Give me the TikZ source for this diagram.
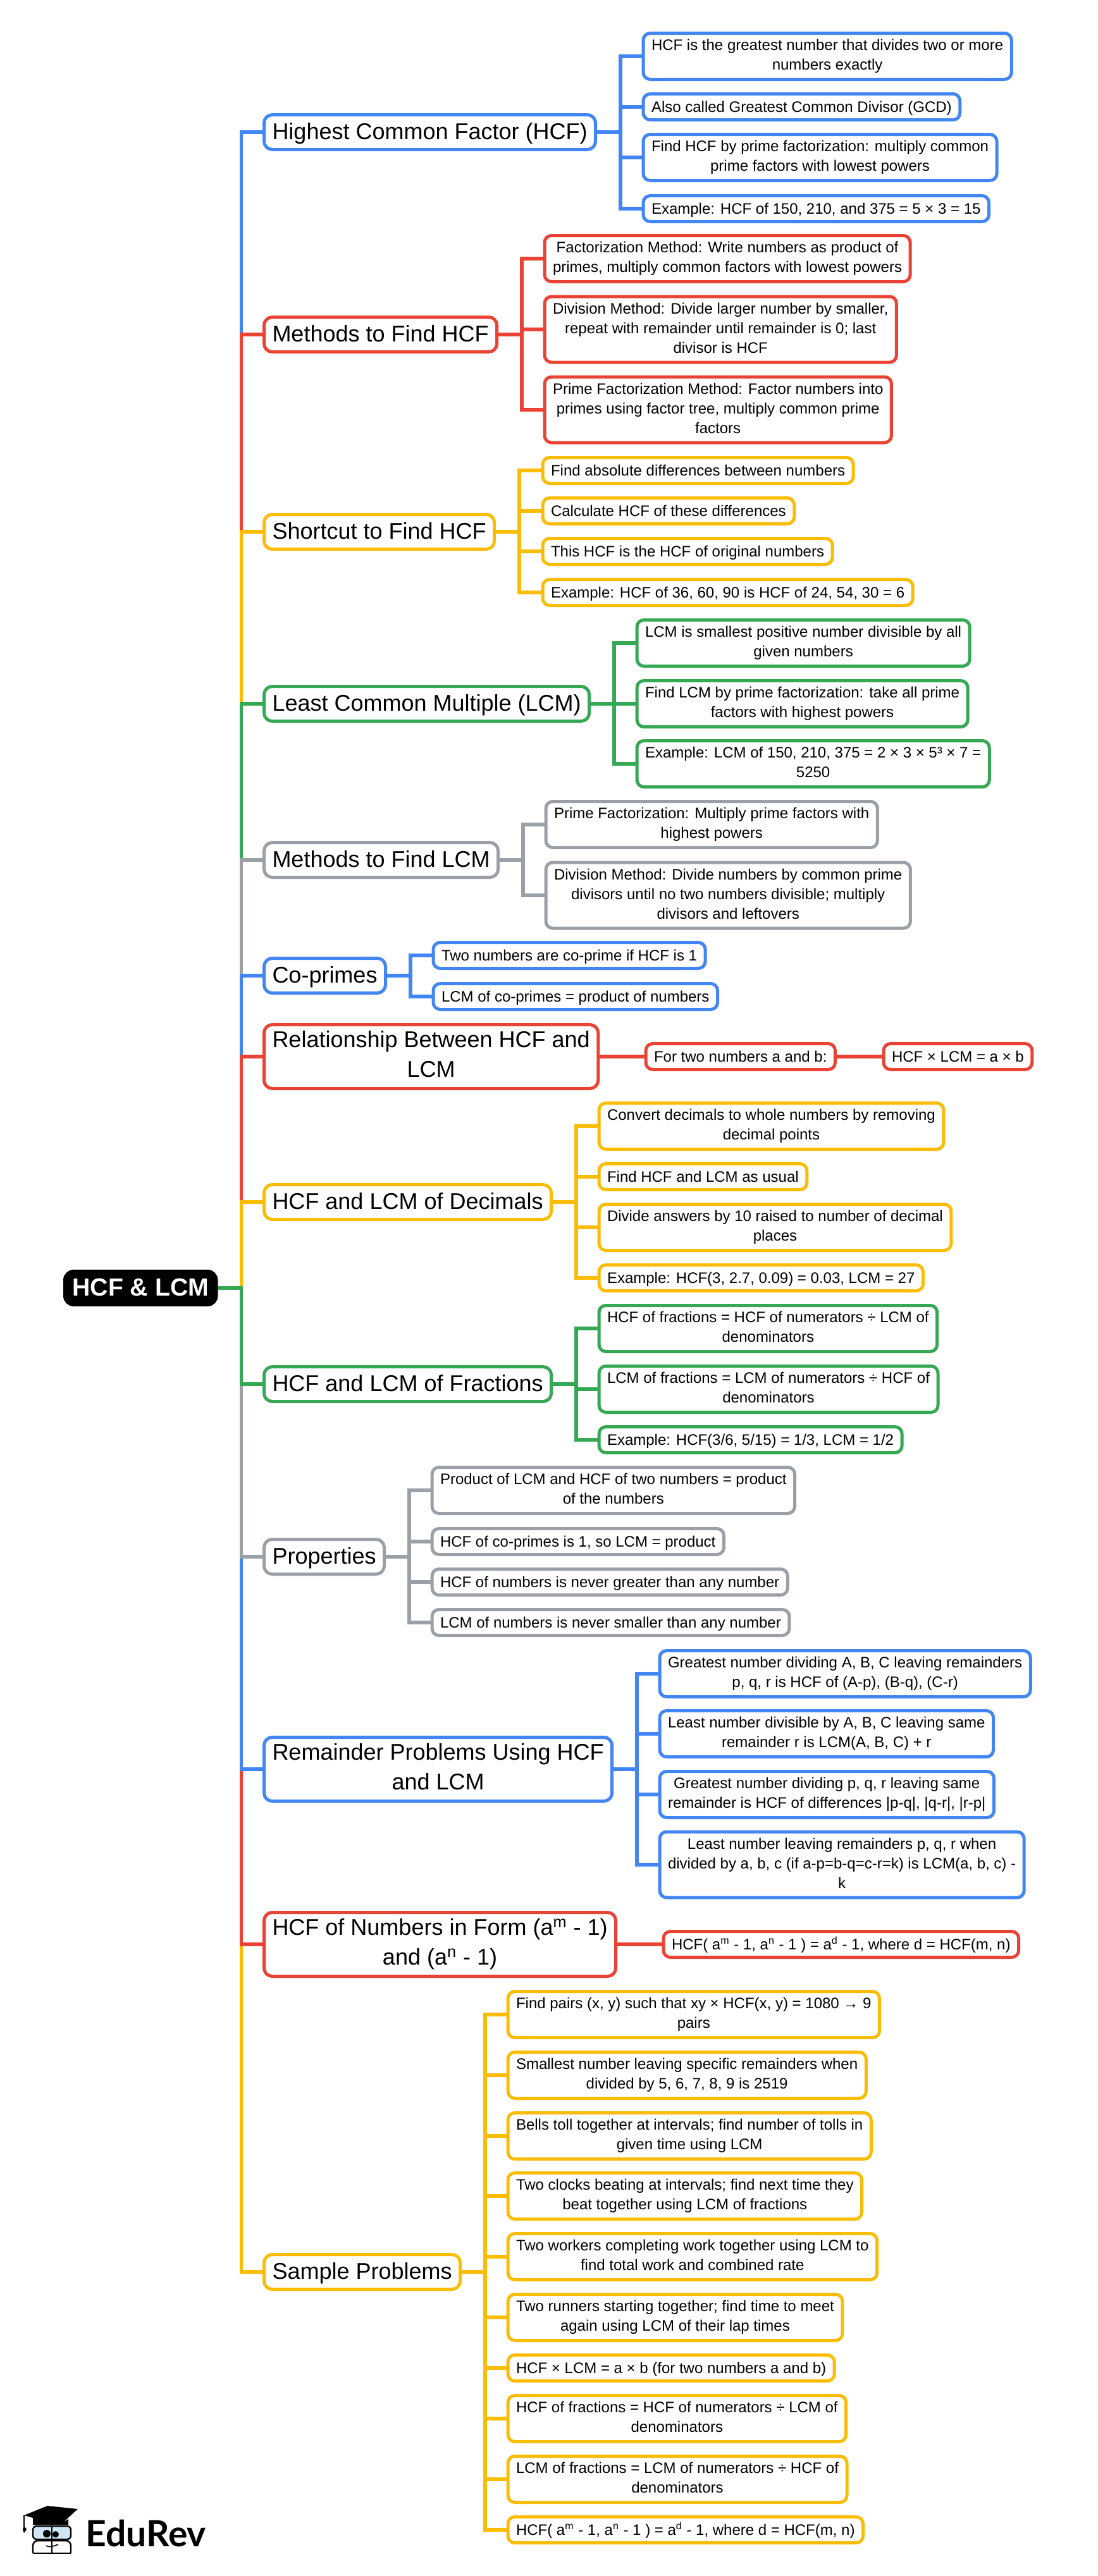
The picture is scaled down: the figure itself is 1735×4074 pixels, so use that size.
\documentclass[tikz,border=0pt]{standalone}
\usepackage{fontspec}
\setmainfont{Liberation Sans}
\newfontfamily\logofont{Lato}
\definecolor{mapblue}{HTML}{4285F4}
\definecolor{mapred}{HTML}{EA4335}
\definecolor{mapyellow}{HTML}{FBBC04}
\definecolor{mapgreen}{HTML}{34A853}
\definecolor{mapgray}{HTML}{9AA0A6}
\definecolor{logoblue}{HTML}{CFE6F7}
\tikzset{
  mainbox/.style={draw=#1,line width=2.5pt,rounded corners=6.5pt,fill=white,anchor=west,align=center,xshift=-0.5pt,
    font=\fontsize{18}{23.4}\selectfont,text=black,inner xsep=6.5pt,inner ysep=0pt,minimum height=27.5pt,
    execute at begin node={\rule{0pt}{15.5pt}},execute at end node={\rule[-3.8pt]{0pt}{0pt}}},
  leafbox/.style={draw=#1,line width=2.5pt,rounded corners=5.5pt,fill=white,anchor=west,align=center,xshift=-0.75pt,
    font=\fontsize{12}{15.5}\selectfont,text=black,inner xsep=6.5pt,inner ysep=0pt,minimum height=20.5pt,
    execute at begin node={\rule{0pt}{10.8pt}},execute at end node={\rule[-2.5pt]{0pt}{0pt}}},
  twolines/.style={minimum height=36.5pt},
  threelines/.style={minimum height=52pt},
  maintwo/.style={minimum height=50.5pt},
  link/.style={draw=#1,line width=2.8pt}
}
\begin{document}
\begin{tikzpicture}[x=0.5pt,y=-0.5pt]
\useasboundingbox (0,0) rectangle (1735,4074);
% Root and the main topics
\node[draw=black,fill=black,line width=2.5pt,rounded corners=7pt,inner xsep=6pt,inner ysep=0pt,minimum height=26.5pt,anchor=west,
  text=white,text height=13.8pt,text depth=1.8pt,font=\fontsize{19.6}{24}\selectfont\bfseries] (root) at (100,2037) {HCF \& LCM};
\node[mainbox=mapblue] (hcf) at (416,209) {Highest Common Factor (HCF)};
\node[mainbox=mapred] (mhcf) at (416,529) {Methods to Find HCF};
\node[mainbox=mapyellow] (short) at (416,841) {Shortcut to Find HCF};
\node[mainbox=mapgreen] (lcm) at (416,1113) {Least Common Multiple (LCM)};
\node[mainbox=mapgray] (mlcm) at (416,1360) {Methods to Find LCM};
\node[mainbox=mapblue] (cop) at (416,1543) {Co-primes};
\node[mainbox=mapred,maintwo] (rel) at (416,1671) {Relationship Between HCF and\\LCM};
\node[mainbox=mapyellow] (dec) at (416,1901) {HCF and LCM of Decimals};
\node[mainbox=mapgreen] (frac) at (416,2189) {HCF and LCM of Fractions};
\node[mainbox=mapgray] (prop) at (416,2462) {Properties};
\node[mainbox=mapblue,maintwo] (rem) at (416,2798) {Remainder Problems Using HCF\\and LCM};
\node[mainbox=mapred,maintwo] (form) at (416,3075) {HCF of Numbers in Form (a\textsuperscript{m} - 1)\\and (a\textsuperscript{n} - 1)};
\node[mainbox=mapyellow] (samp) at (416,3593) {Sample Problems};
% Spine, upper half then lower half, so each colour lies over the last
\draw[link=mapblue] (root.east) -- ++(37,0) |- (hcf.west);
\draw[link=mapred] (root.east) -- ++(37,0) |- (mhcf.west);
\draw[link=mapyellow] (root.east) -- ++(37,0) |- (short.west);
\draw[link=mapgreen] (root.east) -- ++(37,0) |- (lcm.west);
\draw[link=mapgray] (root.east) -- ++(37,0) |- (mlcm.west);
\draw[link=mapblue] (root.east) -- ++(37,0) |- (cop.west);
\draw[link=mapred] (root.east) -- ++(37,0) |- (rel.west);
\draw[link=mapyellow] (root.east) -- ++(37,0) |- (dec.west);
\draw[link=mapyellow] (root.east) -- ++(37,0) |- (samp.west);
\draw[link=mapred] (root.east) -- ++(37,0) |- (form.west);
\draw[link=mapblue] (root.east) -- ++(37,0) |- (rem.west);
\draw[link=mapgray] (root.east) -- ++(37,0) |- (prop.west);
\draw[link=mapgreen] (root.east) -- ++(37,0) |- (frac.west);
% Highest Common Factor
\node[leafbox=mapblue,twolines] (hcfa) at (1016,89) {HCF is the greatest number that divides two or more\\numbers exactly};
\node[leafbox=mapblue] (hcfb) at (1016,169) {Also called Greatest Common Divisor (GCD)};
\node[leafbox=mapblue,twolines] (hcfc) at (1016,249) {Find HCF by prime factorization: multiply common\\prime factors with lowest powers};
\node[leafbox=mapblue] (hcfd) at (1016,330) {Example: HCF of 150, 210, and 375 = 5 × 3 = 15};
\draw[link=mapblue] (hcf.east) -- ++(37,0) |- (hcfa.west);
\draw[link=mapblue] (hcf.east) -- ++(37,0) |- (hcfb.west);
\draw[link=mapblue] (hcf.east) -- ++(37,0) |- (hcfc.west);
\draw[link=mapblue] (hcf.east) -- ++(37,0) |- (hcfd.west);
% Methods to find HCF
\node[leafbox=mapred,twolines] (mhcfa) at (860,409) {Factorization Method: Write numbers as product of\\primes, multiply common factors with lowest powers};
\node[leafbox=mapred,threelines] (mhcfb) at (860,521) {Division Method: Divide larger number by smaller,\\repeat with remainder until remainder is 0; last\\divisor is HCF};
\node[leafbox=mapred,threelines] (mhcfc) at (860,648) {Prime Factorization Method: Factor numbers into\\primes using factor tree, multiply common prime\\factors};
\draw[link=mapred] (mhcf.east) -- ++(37,0) |- (mhcfa.west);
\draw[link=mapred] (mhcf.east) -- ++(37,0) |- (mhcfb.west);
\draw[link=mapred] (mhcf.east) -- ++(37,0) |- (mhcfc.west);
% Shortcut
\node[leafbox=mapyellow] (shorta) at (857,744) {Find absolute differences between numbers};
\node[leafbox=mapyellow] (shortb) at (857,808) {Calculate HCF of these differences};
\node[leafbox=mapyellow] (shortc) at (857,872) {This HCF is the HCF of original numbers};
\node[leafbox=mapyellow] (shortd) at (857,937) {Example: HCF of 36, 60, 90 is HCF of 24, 54, 30 = 6};
\draw[link=mapyellow] (short.east) -- ++(37,0) |- (shorta.west);
\draw[link=mapyellow] (short.east) -- ++(37,0) |- (shortb.west);
\draw[link=mapyellow] (short.east) -- ++(37,0) |- (shortc.west);
\draw[link=mapyellow] (short.east) -- ++(37,0) |- (shortd.west);
% Least Common Multiple
\node[leafbox=mapgreen,twolines] (lcma) at (1006,1017) {LCM is smallest positive number divisible by all\\given numbers};
\node[leafbox=mapgreen,twolines] (lcmb) at (1006,1113) {Find LCM by prime factorization: take all prime\\factors with highest powers};
\node[leafbox=mapgreen,twolines] (lcmc) at (1006,1208) {Example: LCM of 150, 210, 375 = 2 × 3 × 5³ × 7 =\\5250};
\draw[link=mapgreen] (lcm.east) -- ++(37,0) |- (lcma.west);
\draw[link=mapgreen] (lcm.east) -- ++(37,0) |- (lcmb.west);
\draw[link=mapgreen] (lcm.east) -- ++(37,0) |- (lcmc.west);
% Methods to find LCM
\node[leafbox=mapgray,twolines] (mlcma) at (862,1304) {Prime Factorization: Multiply prime factors with\\highest powers};
\node[leafbox=mapgray,threelines] (mlcmb) at (862,1416) {Division Method: Divide numbers by common prime\\divisors until no two numbers divisible; multiply\\divisors and leftovers};
\draw[link=mapgray] (mlcm.east) -- ++(37,0) |- (mlcma.west);
\draw[link=mapgray] (mlcm.east) -- ++(37,0) |- (mlcmb.west);
% Co-primes
\node[leafbox=mapblue] (copa) at (684,1511) {Two numbers are co-prime if HCF is 1};
\node[leafbox=mapblue] (copb) at (684,1576) {LCM of co-primes = product of numbers};
\draw[link=mapblue] (cop.east) -- ++(37,0) |- (copa.west);
\draw[link=mapblue] (cop.east) -- ++(37,0) |- (copb.west);
% Relationship
\node[leafbox=mapred] (rela) at (1020,1671) {For two numbers a and b:};
\node[leafbox=mapred] (relb) at (1396,1671) {HCF × LCM = a × b};
\draw[link=mapred] (rel.east) -- (rela.west);
\draw[link=mapred] (rela.east) -- (relb.west);
% Decimals
\node[leafbox=mapyellow,twolines] (deca) at (946,1781) {Convert decimals to whole numbers by removing\\decimal points};
\node[leafbox=mapyellow] (decb) at (946,1861) {Find HCF and LCM as usual};
\node[leafbox=mapyellow,twolines] (decc) at (946,1941) {Divide answers by 10 raised to number of decimal\\places};
\node[leafbox=mapyellow] (decd) at (946,2021) {Example: HCF(3, 2.7, 0.09) = 0.03, LCM = 27};
\draw[link=mapyellow] (dec.east) -- ++(37,0) |- (deca.west);
\draw[link=mapyellow] (dec.east) -- ++(37,0) |- (decb.west);
\draw[link=mapyellow] (dec.east) -- ++(37,0) |- (decc.west);
\draw[link=mapyellow] (dec.east) -- ++(37,0) |- (decd.west);
% Fractions
\node[leafbox=mapgreen,twolines] (fraca) at (946,2101) {HCF of fractions = HCF of numerators ÷ LCM of\\denominators};
\node[leafbox=mapgreen,twolines] (fracb) at (946,2197) {LCM of fractions = LCM of numerators ÷ HCF of\\denominators};
\node[leafbox=mapgreen] (fracc) at (946,2277) {Example: HCF(3/6, 5/15) = 1/3, LCM = 1/2};
\draw[link=mapgreen] (frac.east) -- ++(37,0) |- (fraca.west);
\draw[link=mapgreen] (frac.east) -- ++(37,0) |- (fracb.west);
\draw[link=mapgreen] (frac.east) -- ++(37,0) |- (fracc.west);
% Properties
\node[leafbox=mapgray,twolines] (propa) at (682,2357) {Product of LCM and HCF of two numbers = product\\of the numbers};
\node[leafbox=mapgray] (propb) at (682,2438) {HCF of co-primes is 1, so LCM = product};
\node[leafbox=mapgray] (propc) at (682,2502) {HCF of numbers is never greater than any number};
\node[leafbox=mapgray] (propd) at (682,2566) {LCM of numbers is never smaller than any number};
\draw[link=mapgray] (prop.east) -- ++(37,0) |- (propa.west);
\draw[link=mapgray] (prop.east) -- ++(37,0) |- (propb.west);
\draw[link=mapgray] (prop.east) -- ++(37,0) |- (propc.west);
\draw[link=mapgray] (prop.east) -- ++(37,0) |- (propd.west);
% Remainder problems
\node[leafbox=mapblue,twolines] (rema) at (1042,2647) {Greatest number dividing A, B, C leaving remainders\\p, q, r is HCF of (A-p), (B-q), (C-r)};
\node[leafbox=mapblue,twolines] (remb) at (1042,2742) {Least number divisible by A, B, C leaving same\\remainder r is LCM(A, B, C) + r};
\node[leafbox=mapblue,twolines] (remc) at (1042,2838) {Greatest number dividing p, q, r leaving same\\remainder is HCF of differences |p-q|, |q-r|, |r-p|};
\node[leafbox=mapblue,threelines] (remd) at (1042,2949) {Least number leaving remainders p, q, r when\\divided by a, b, c (if a-p=b-q=c-r=k) is LCM(a, b, c) -\\k};
\draw[link=mapblue] (rem.east) -- ++(37,0) |- (rema.west);
\draw[link=mapblue] (rem.east) -- ++(37,0) |- (remb.west);
\draw[link=mapblue] (rem.east) -- ++(37,0) |- (remc.west);
\draw[link=mapblue] (rem.east) -- ++(37,0) |- (remd.west);
% Numbers in form
\node[leafbox=mapred] (forma) at (1048,3075) {HCF( a\textsuperscript{m} - 1, a\textsuperscript{n} - 1 ) = a\textsuperscript{d} - 1, where d = HCF(m, n)};
\draw[link=mapred] (form.east) -- (forma.west);
% Sample problems
\node[leafbox=mapyellow,twolines] (sampa) at (802,3186) {Find pairs (x, y) such that xy × HCF(x, y) = 1080 → 9\\pairs};
\node[leafbox=mapyellow,twolines] (sampb) at (802,3282) {Smallest number leaving specific remainders when\\divided by 5, 6, 7, 8, 9 is 2519};
\node[leafbox=mapyellow,twolines] (sampc) at (802,3378) {Bells toll together at intervals; find number of tolls in\\given time using LCM};
\node[leafbox=mapyellow,twolines] (sampd) at (802,3473) {Two clocks beating at intervals; find next time they\\beat together using LCM of fractions};
\node[leafbox=mapyellow,twolines] (sampe) at (802,3569) {Two workers completing work together using LCM to\\find total work and combined rate};
\node[leafbox=mapyellow,twolines] (sampf) at (802,3665) {Two runners starting together; find time to meet\\again using LCM of their lap times};
\node[leafbox=mapyellow] (sampg) at (802,3745) {HCF × LCM = a × b (for two numbers a and b)};
\node[leafbox=mapyellow,twolines] (samph) at (802,3825) {HCF of fractions = HCF of numerators ÷ LCM of\\denominators};
\node[leafbox=mapyellow,twolines] (sampi) at (802,3921) {LCM of fractions = LCM of numerators ÷ HCF of\\denominators};
\node[leafbox=mapyellow] (sampj) at (802,4001) {HCF( a\textsuperscript{m} - 1, a\textsuperscript{n} - 1 ) = a\textsuperscript{d} - 1, where d = HCF(m, n)};
\draw[link=mapyellow] (samp.east) -- ++(37,0) |- (sampa.west);
\draw[link=mapyellow] (samp.east) -- ++(37,0) |- (sampb.west);
\draw[link=mapyellow] (samp.east) -- ++(37,0) |- (sampc.west);
\draw[link=mapyellow] (samp.east) -- ++(37,0) |- (sampd.west);
\draw[link=mapyellow] (samp.east) -- ++(37,0) |- (sampe.west);
\draw[link=mapyellow] (samp.east) -- ++(37,0) |- (sampf.west);
\draw[link=mapyellow] (samp.east) -- ++(37,0) |- (sampg.west);
\draw[link=mapyellow] (samp.east) -- ++(37,0) |- (samph.west);
\draw[link=mapyellow] (samp.east) -- ++(37,0) |- (sampi.west);
\draw[link=mapyellow] (samp.east) -- ++(37,0) |- (sampj.west);
% Logo
\fill[black] (38,3978) -- (75,3963) -- (123,3968) -- (100,3989) -- (108,3984) -- (108,3993) -- (52,3993) -- (52,3982) -- cycle;
\draw[black,line width=0.8pt] (38,3978) -- (38,3997);
\fill[black] (38,3995) -- (42,4000) -- (38,4006) -- (36,4000) -- cycle;
\draw[black,line width=1.2pt,fill=logoblue,rounded corners=3pt] (52,3995) rectangle (112,4016);
\draw[black,line width=1.2pt,rounded corners=4pt] (52,4038) -- (52,4018) -- (112,4018) -- (112,4038);
\draw[black,line width=1.2pt] (52,4038) -- (112,4038);
\draw[black,line width=1.2pt] (82,3994) -- (82,4038);
\fill[black] (74,4007) circle (3pt) (88,4008) circle (2.5pt);
\draw[black,line width=0.8pt] (73,4026) to[out=-30,in=200] (92,4024);
\node[anchor=base west,inner sep=0pt,font=\fontsize{28.5}{29}\logofont\bfseries] (logo) at (135,4027) {EduRev};
\end{tikzpicture}
\end{document}
